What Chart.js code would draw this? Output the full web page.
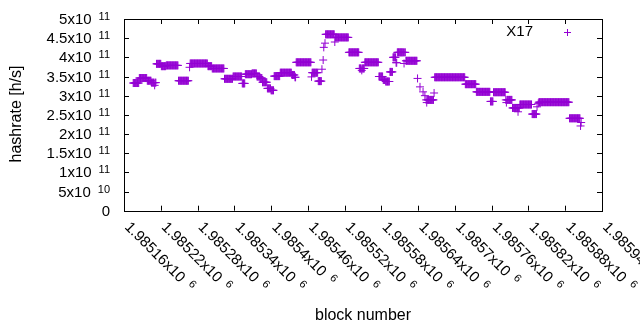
<!DOCTYPE html>
<html>
<head>
<meta charset="utf-8">
<script src="https://cdn.jsdelivr.net/npm/chart.js@4.4.1/dist/chart.umd.min.js"></script>
<style>
  html, body { margin: 0; padding: 0; background: #fff; }
  #wrap { width: 640px; height: 330px; }
</style>
</head>
<body>
<div id="wrap"><canvas id="hashChart"></canvas></div>
<script>
// Hashrate stays flat over runs of blocks; each run = first block, last block, level (h/s).
// Runs of one block are single readings.
const runFirst = [
  1985175, 1985185, 1985198, 1985205, 1985210, 1985211, 1985213, 1985221, 1985229, 1985249,
  1985267, 1985268, 1985297, 1985304, 1985324, 1985338, 1985353, 1985358, 1985369, 1985377,
  1985382, 1985386, 1985394, 1985400, 1985405, 1985415, 1985434, 1985439, 1985441, 1985466,
  1985467, 1985477, 1985483, 1985485, 1985486, 1985488, 1985489, 1985504, 1985505, 1985527,
  1985544, 1985548, 1985549, 1985553, 1985576, 1985583, 1985587, 1985594, 1985599, 1985604,
  1985606, 1985617, 1985618, 1985620, 1985639, 1985643, 1985648, 1985651, 1985653, 1985654,
  1985655, 1985666, 1985667, 1985717, 1985735, 1985758, 1985763, 1985783, 1985784, 1985785,
  1985794, 1985803, 1985804, 1985806, 1985826, 1985834, 1985836, 1985837, 1985887, 1985905,
  1985906
];

const runLast = [
  1985184, 1985197, 1985204, 1985209, 1985210, 1985212, 1985220, 1985228, 1985248, 1985265,
  1985267, 1985296, 1985303, 1985323, 1985337, 1985352, 1985357, 1985368, 1985376, 1985381,
  1985385, 1985393, 1985399, 1985404, 1985414, 1985433, 1985438, 1985440, 1985465, 1985466,
  1985476, 1985482, 1985483, 1985485, 1985486, 1985488, 1985503, 1985504, 1985526, 1985543,
  1985547, 1985548, 1985552, 1985575, 1985582, 1985586, 1985593, 1985598, 1985603, 1985605,
  1985616, 1985617, 1985619, 1985638, 1985639, 1985643, 1985648, 1985651, 1985653, 1985654,
  1985665, 1985666, 1985716, 1985734, 1985757, 1985762, 1985782, 1985783, 1985784, 1985793,
  1985802, 1985803, 1985805, 1985825, 1985833, 1985834, 1985836, 1985886, 1985904, 1985905,
  1985906
];

const runLevel = [
  3.33e11, 3.46e11, 3.39e11, 3.34e11, 3.27e11, 3.34e11, 3.83e11, 3.77e11, 3.79e11, 3.39e11,
  3.74e11, 3.84e11, 3.77e11, 3.71e11, 3.44e11, 3.50e11, 3.32e11, 3.56e11, 3.58e11, 3.50e11,
  3.46e11, 3.35e11, 3.19e11, 3.14e11, 3.51e11, 3.60e11, 3.54e11, 3.48e11, 3.87e11, 3.49e11,
  3.60e11, 3.38e11, 3.69e11, 3.93e11, 4.26e11, 4.37e11, 4.60e11, 4.40e11, 4.52e11, 4.13e11,
  3.71e11, 3.66e11, 3.71e11, 3.87e11, 3.50e11, 3.41e11, 3.37e11, 3.62e11, 4.00e11, 3.86e11,
  4.13e11, 3.84e11, 4.13e11, 3.91e11, 3.45e11, 3.23e11, 3.10e11, 3.00e11, 2.89e11, 2.82e11,
  2.89e11, 3.07e11, 3.48e11, 3.30e11, 3.10e11, 2.85e11, 3.09e11, 2.89e11, 2.82e11, 2.89e11,
  2.68e11, 2.58e11, 2.68e11, 2.77e11, 2.52e11, 2.71e11, 2.80e11, 2.83e11, 2.41e11, 2.21e11,
  2.30e11
];

const seriesLabel = "X17";
const xTitle = "block number";
const yTitle = "hashrate [h/s]";

// axis ranges / tick steps
const xMin = 1985160, xMax = 1985940, xStep = 60;
const yMin = 0, yMax = 5e11, yStep = 5e10;

const PURPLE = "#9400d3";
const FONT = "'Liberation Sans', Arial, sans-serif";

// one point per block
const points = [];
runFirst.forEach((first, i) => {
  for (let b = first; b <= runLast[i]; b++) {
    points.push({ x: b, y: runLevel[i] });
  }
});

// split a value into gnuplot style mantissa "x10" + exponent
function sciParts(v) {
  if (v === 0) return { mant: "0", exp: "" };
  const e = Math.floor(Math.log10(Math.abs(v)) + 1e-9);
  const m = parseFloat((v / Math.pow(10, e)).toPrecision(6));
  return { mant: m + "x10", exp: String(e) };
}

const gnuplotFrame = {
  id: "gnuplotFrame",
  afterDraw: (chart) => {
    const { ctx, chartArea } = chart;
    const { left, right, top, bottom } = chartArea;
    const xs = chart.scales.x;
    const ys = chart.scales.y;
    const tick = 5;

    ctx.save();
    ctx.strokeStyle = "#000";
    ctx.lineWidth = 1;

    // border box
    ctx.strokeRect(Math.round(left) + 0.5, Math.round(top) + 0.5,
      Math.round(right - left), Math.round(bottom - top));

    // inward tick marks, mirrored
    ctx.beginPath();
    ys.ticks.forEach((t) => {
      const py = Math.round(ys.getPixelForValue(t.value)) + 0.5;
      ctx.moveTo(left, py); ctx.lineTo(left + tick, py);
      ctx.moveTo(right, py); ctx.lineTo(right - tick, py);
    });
    xs.ticks.forEach((t) => {
      const px = Math.round(xs.getPixelForValue(t.value)) + 0.5;
      ctx.moveTo(px, bottom); ctx.lineTo(px, bottom - tick);
      ctx.moveTo(px, top); ctx.lineTo(px, top + tick);
    });
    ctx.stroke();

    ctx.fillStyle = "#000";

    // y tick labels
    ys.ticks.forEach((t) => {
      const py = ys.getPixelForValue(t.value);
      const p = sciParts(t.value);
      const rightEdge = 110;
      ctx.textBaseline = "alphabetic";
      ctx.textAlign = "right";
      if (!p.exp) {
        ctx.font = "15px " + FONT;
        ctx.fillText(p.mant, rightEdge, py + 5);
        return;
      }
      ctx.font = "11px " + FONT;
      const ew = ctx.measureText(p.exp).width;
      ctx.fillText(p.exp, rightEdge, py + 1);
      ctx.font = "15px " + FONT;
      ctx.fillText(p.mant, rightEdge - ew - 7, py + 5);
    });

    // x tick labels, rotated by 45 degrees
    xs.ticks.forEach((t) => {
      const px = xs.getPixelForValue(t.value);
      const p = sciParts(t.value);
      ctx.save();
      ctx.translate(px + 3, bottom + 14);
      ctx.rotate(Math.PI / 4);
      ctx.textAlign = "left";
      ctx.textBaseline = "middle";
      ctx.font = "15px " + FONT;
      ctx.fillText(p.mant, 0, 0);
      const mw = ctx.measureText(p.mant).width;
      ctx.font = "11px " + FONT;
      ctx.fillText(p.exp, mw + 7, -4);
      ctx.restore();
    });

    // axis titles
    ctx.font = "16px " + FONT;
    ctx.textAlign = "center";
    ctx.textBaseline = "middle";
    ctx.fillText(xTitle, 363, 316);
    ctx.save();
    ctx.translate(17, 114);
    ctx.rotate(-Math.PI / 2);
    ctx.fillText(yTitle, 0, 0);
    ctx.restore();

    // key, top right
    ctx.font = "15px " + FONT;
    ctx.textAlign = "right";
    ctx.fillText(seriesLabel, 533, 32);
    ctx.strokeStyle = PURPLE;
    ctx.beginPath();
    ctx.moveTo(564, 32.5); ctx.lineTo(571, 32.5);
    ctx.moveTo(567.5, 29); ctx.lineTo(567.5, 36);
    ctx.stroke();

    ctx.restore();
  },
};

const ctx = document.getElementById("hashChart").getContext("2d");

new Chart(ctx, {
  type: "scatter",
  data: {
    datasets: [
      {
        label: seriesLabel,
        data: points,
        pointStyle: "cross",
        pointRadius: 4,
        pointHoverRadius: 4,
        borderColor: PURPLE,
        backgroundColor: PURPLE,
        borderWidth: 1,
        showLine: false,
      },
    ],
  },
  options: {
    responsive: true,
    maintainAspectRatio: false,
    animation: false,
    devicePixelRatio: 1,
    layout: { padding: { top: 19, right: 38, left: 0, bottom: 0 } },
    plugins: {
      legend: { display: false },
      tooltip: { enabled: false },
    },
    scales: {
      x: {
        type: "linear",
        min: xMin,
        max: xMax,
        ticks: { stepSize: xStep, display: false },
        grid: { display: false, drawTicks: false },
        border: { display: false },
        afterFit: (scale) => { scale.height = 119.3; },
      },
      y: {
        type: "linear",
        min: yMin,
        max: yMax,
        ticks: { stepSize: yStep, display: false },
        grid: { display: false, drawTicks: false },
        border: { display: false },
        afterFit: (scale) => { scale.width = 124; },
      },
    },
  },
  plugins: [gnuplotFrame],
});
</script>
</body>
</html>
